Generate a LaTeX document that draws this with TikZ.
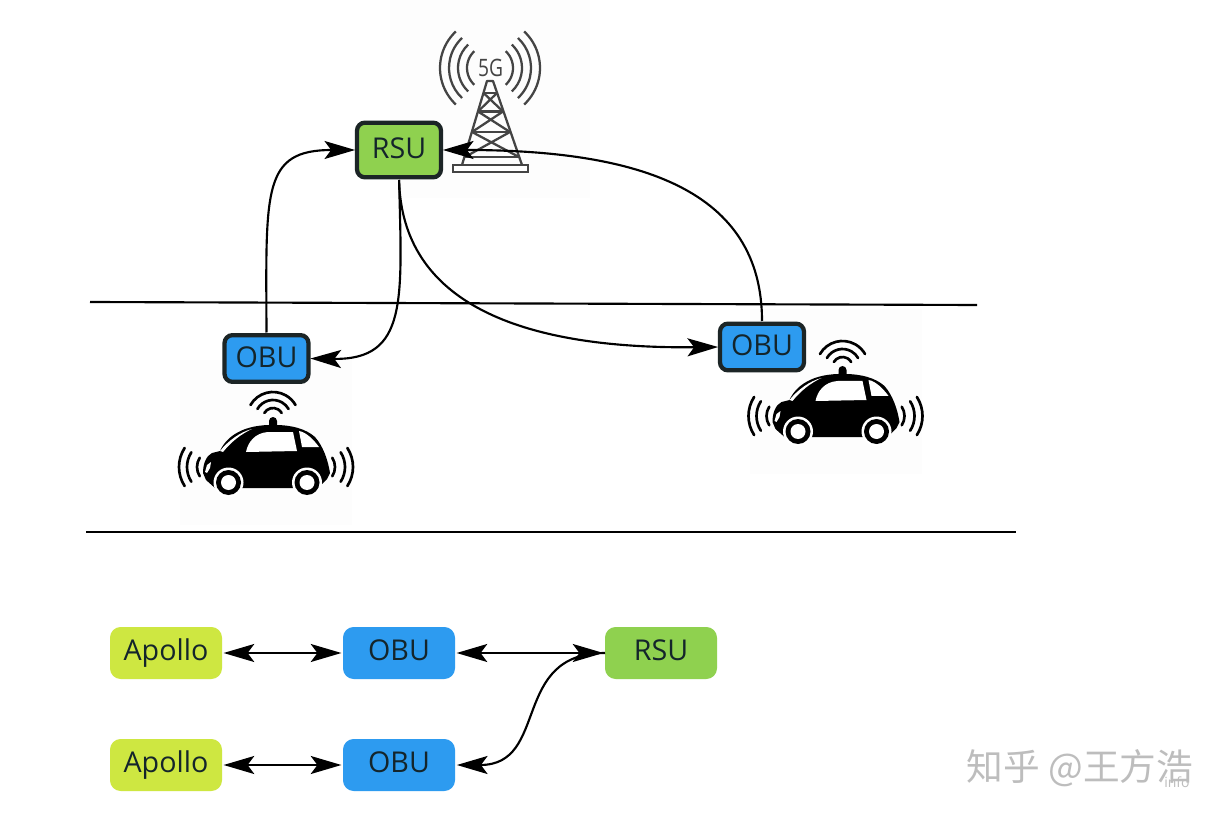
\documentclass[tikz,border=0pt]{standalone}
\usepackage{fontspec}
\setmainfont{Open Sans}
\newfontfamily\cjkfont{Noto Sans CJK SC}
\usetikzlibrary{arrows.meta}
\definecolor{rsugreen}{HTML}{8FD14F}
\definecolor{obublue}{HTML}{2D9BF0}
\definecolor{apolloy}{HTML}{CEE741}
\definecolor{edgedark}{HTML}{1C2526}
\definecolor{labeldark}{HTML}{14252B}
\definecolor{towergray}{HTML}{444444}
\definecolor{markgray}{HTML}{BDBDBD}
\definecolor{faintbg}{HTML}{FDFDFD}
\tikzset{
  x=0.75pt,y=-0.75pt,
  boxlabel/.style={font=\fontsize{21.5}{25}\selectfont,text=labeldark,text height=15.5pt,text depth=2pt},
  bordered/.style={draw=edgedark,line width=3.2pt,rounded corners=6pt,inner sep=0pt,outer sep=0pt,
    minimum width=63pt,boxlabel},
  flatbox/.style={rounded corners=8pt,inner sep=0pt,outer sep=0pt,minimum width=84pt,minimum height=39pt,boxlabel,text height=12.5pt},
  conn/.style={line width=1.6pt,black},
  headend/.style={-{Stealth[length=23pt,width=13.5pt,inset=5pt]},shorten >=1.4pt},
  headboth/.style={{Stealth[length=23pt,width=13.5pt,inset=5pt]}-{Stealth[length=23pt,width=13.5pt,inset=5pt]},shorten >=1.2pt,shorten <=1.2pt},
  towerline/.style={draw=towergray,line width=1.7pt},
  towerwave/.style={draw=towergray,line width=1.7pt},
  carwave/.style={draw=black,line width=2pt,line cap=round},
  pics/autocar/.style={code={
    \fill[faintbg] (180,360) rectangle (352,525);
    % antenna waves
    \foreach \r in {10,18,26}{\draw[carwave] (273,418) ++(-150:\r) arc[start angle=-150,end angle=-30,radius=\r];}
    \foreach \r in {17,27,35}{
      \draw[carwave] (214,467) ++(147:\r) arc[start angle=147,end angle=213,radius=\r];
      \draw[carwave] (318,467) ++(-33:\r) arc[start angle=-33,end angle=33,radius=\r];}
    \fill[black] (269,428) -- (269,421) arc[start angle=180,end angle=360,radius=4] -- (277,428) -- cycle;
    % body
    \fill[black] (203,473) .. controls (203,464) and (206,456) .. (212,453)
      -- (220,451) .. controls (226,437) and (243,424) .. (275,425)
      .. controls (292,425) and (306,429) .. (315,437)
      .. controls (323,446) and (328,460) .. (330,473)
      -- (327,479) -- (318,488) -- (215,488) -- (206,480) -- cycle;
    % windows
    \fill[white] (246,452) .. controls (248,442) and (255,433) .. (268,432) -- (293,432) -- (297,451) -- cycle;
    \fill[white] (299,431) .. controls (306,432) and (314,440) .. (319,447) -- (302,447) -- cycle;
    \fill[white] (220,451) .. controls (228,441) and (240,432) .. (252,429) .. controls (241,434) and (231,442) .. (223,452) -- cycle;
    \fill[white] (205,472) -- (207,465) -- (211,462) -- (210,468) -- (207,473) -- cycle;
    % wheels
    \foreach \wx in {228.5,307}{
      \fill[white] (\wx,482.5) circle[radius=15];
      \fill[black] (\wx,482.5) circle[radius=12.5];
      \fill[white] (\wx,482.5) circle[radius=7.5];}
  }}
}
\begin{document}
\begin{tikzpicture}
\useasboundingbox (0,0) rectangle (1224,816);
\fill[white] (0,0) rectangle (1224,816);
% tower backdrop
\fill[faintbg] (390,0) rectangle (590,198);
% tower
\foreach \r in {23,32,41,50}{
  \draw[towerwave] (490,68) ++(133:\r) arc[start angle=133,end angle=227,radius=\r];
  \draw[towerwave] (490,68) ++(-47:\r) arc[start angle=-47,end angle=47,radius=\r];}
\node[text=towergray,font=\fontsize{18}{20}\selectfont,inner sep=0pt] (fiveg) at (490.5,68) {\scalebox{0.8}[1]{5G}};
\draw[towerline,line join=round] (462,165) -- (487,81) -- (493,81) -- (522,165);
\draw[towerline] (483.5,93) -- (497,93) (478,111.5) -- (503,111.5) (472,132) -- (510,132) (465,157) -- (519,157);
\draw[towerline] (483.5,93) -- (503,111.5) (497,93) -- (478,111.5) (478,111.5) -- (510,132) (503,111.5) -- (472,132)
  (472,132) -- (519,157) (510,132) -- (465,157);
\draw[towerline,fill=white] (453,165) rectangle (528,172);
% road lines
\coordinate (roadAl) at (90,302);
\coordinate (roadAr) at (977,305);
\coordinate (roadBl) at (86,532);
\coordinate (roadBr) at (1016,532);
\draw[conn] (roadAl) -- (roadAr);
\draw[conn] (roadBl) -- (roadBr);
% cars
\pic at (0,0) {autocar};
\pic at (569.5,-51) {autocar};
% upper nodes
\node[bordered,fill=rsugreen,minimum height=41pt,minimum width=63pt] (rsu) at (399,150) {RSU};
\node[bordered,fill=obublue,minimum height=35pt] (obuA) at (266.5,358.5) {OBU};
\node[bordered,fill=obublue,minimum height=35pt] (obuB) at (762,347) {OBU};
% upper connectors
\draw[conn,headend,shorten <=2pt] (obuA.north) .. controls (266,190) and (262,150) .. (rsu.west);
\draw[conn,headend,shorten <=2pt] (rsu.south) .. controls (402,300) and (408,360) .. (obuA.east);
\draw[conn,headend,shorten <=2pt] (rsu.south) .. controls (402,303) and (520,349) .. (obuB.west);
\draw[conn,headend,shorten <=2pt] (obuB.north) .. controls (762,190) and (640,150) .. (rsu.east);
% lower nodes
\node[flatbox,fill=apolloy] (apA) at (166,653) {Apollo};
\node[flatbox,fill=obublue] (obC) at (399,653) {OBU};
\node[flatbox,fill=rsugreen] (rsuB) at (661,653) {RSU};
\node[flatbox,fill=apolloy] (apB) at (166,765) {Apollo};
\node[flatbox,fill=obublue] (obD) at (399,765) {OBU};
% lower connectors
\draw[conn,headboth] (apA) -- (obC);
\draw[conn,headboth] (obC) -- (rsuB);
\draw[conn,headboth] (apB) -- (obD);
\draw[conn,headend] (rsuB.west) .. controls (510,653) and (550,765) .. (obD.east);
% watermark
\node[text=markgray,font=\cjkfont\fontsize{27.5}{31}\selectfont,inner sep=0pt,anchor=center] (mark) at (1080,768) {知乎 @王方浩};
\node[text=markgray,font=\fontsize{10.5}{12}\selectfont,inner sep=0pt] (markb) at (1177,782) {info};
\end{tikzpicture}
\end{document}
